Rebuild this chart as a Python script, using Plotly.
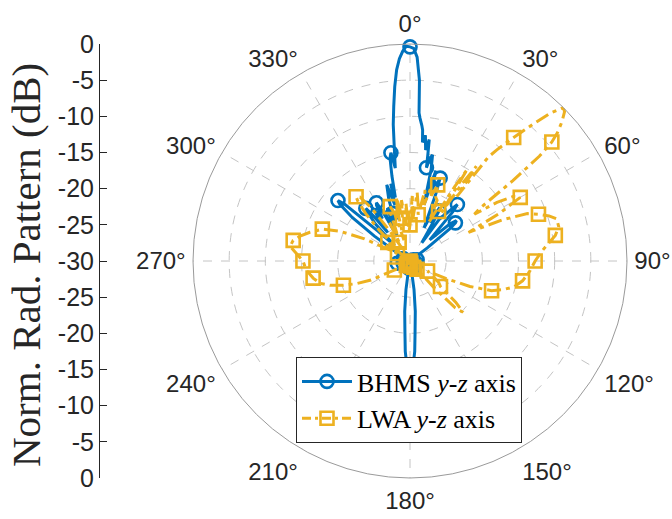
import plotly.graph_objects as go

# ---------------- data (angle in degrees, normalised pattern in dB) ----------------
bhms_theta = [-180, -179, -178, -177, -176, -174, -172, -170, -160, -150, -140, -130, -120, -110,
              -100, -90, -80, -70, -62, -58, -55, -53, -51, -50, -49, -47, -45, -43, -41,
              -40, -39, -38, -37, -35, -33, -31, -30, -29, -27, -25, -23, -21, -20, -19,
              -17, -15, -14, -13, -12, -11, -10, -9, -8, -7, -6, -5, -4, -3, -2, -1, 0,
              1, 2, 3, 3.5, 4, 5, 5.5, 6, 7, 8, 9, 9.5, 10, 11, 12, 13, 14, 16, 17, 18,
              19, 20, 21, 23, 25, 27, 29, 30, 31, 33, 35, 37, 39, 40, 41, 43, 45, 47, 49,
              50, 51, 53, 55, 58, 62, 70, 80, 90, 100, 110, 120, 130, 140, 150, 160, 170,
              172, 174, 176, 177, 178, 179, 180]
bhms_db = [-14, -14.5, -16, -17.5, -20, -23, -26, -29, -30, -29.5, -30, -29.5, -30, -29,
           -28.2, -29.5, -30, -29, -30, -28, -24, -20, -17.5, -17.0, -18, -24, -27, -23, -21,
           -20.5, -22, -25, -23, -21.5, -23, -21, -20.7, -22, -26, -24, -22, -24, -23, -21,
           -19, -22, -19, -21, -18, -15.5, -14.8, -17, -14.5, -11, -8.5, -5.8, -3.5, -2, -1, -0.3, -0.4,
           -0.6, -1.8, -5, -9.5, -10.2, -11.2, -11.8, -13.5, -12.5, -14.5, -13, -15, -16.9, -15.5, -15, -17, -22, -17, -20, -18.5,
           -19, -17.8, -20, -25, -22, -24, -21.5, -22, -24, -27, -23, -22, -20.5, -19.8, -21, -26, -25, -22.5, -21.5,
           -21.8, -23, -27, -30, -29, -30, -29.5, -29, -30, -29.5, -29, -30, -29.5, -30, -29, -30, -29.5,
           -26, -23, -20, -17.5, -16, -14.5, -14]

lwa_theta = [-180, -170, -160, -150, -140, -130, -125, -120, -116, -113, -110, -107, -104,
             -100, -95, -90, -86, -83, -80, -77, -74, -70, -67, -64, -61, -60, -57, -54,
             -50, -47, -45, -43, -41, -40, -38, -36, -34, -32, -30, -28, -26, -24, -22,
             -20, -18, -16, -14, -12, -10, -8, -6, -4, -2, 0, 2, 4, 6, 8, 10, 12, 14, 16,
             18, 20, 22, 24, 26, 28, 30, 31, 32, 33, 34, 35, 36, 37, 38, 40, 42, 43.5, 45,
             46, 47.5, 49, 50, 51, 52, 53, 54, 56, 58, 60, 62, 64, 66, 68, 70, 72, 74, 77,
             80, 83, 86, 90, 95, 100, 104, 107, 110, 113, 116, 120, 124, 127, 130, 132, 134,
             136, 138, 140, 145, 150, 160, 170, 180]
lwa_db = [-29.5, -30, -29.5, -29.8, -29.2, -29.5, -28.5, -27.5, -24, -22, -20.2, -18.5, -17.2,
          -16.4, -15.6, -15.2, -14.2, -13.3, -13.6, -14.5, -15.6, -17.1, -19.5, -23, -27, -28, -26, -29,
          -26, -28, -24, -21, -19, -18.4, -18.8, -21, -25, -28, -27, -24, -26, -25, -22.5,
          -22, -23, -27, -23, -21, -24, -21.5, -25, -22, -26, -25, -21, -24, -20.5, -22, -23.5, -20, -22, -19.5,
          -20.5, -18.8, -20.5, -20.8, -24, -21, -22.1, -18, -15, -22, -17, -14, -19, -12, -10.5, -7.7, -4.5, -1.8, 0,
          -0.3, -1.5, -3, -4.4, -7, -12, -18, -19, -15.5, -13.2, -12.4, -16, -21, -16, -12.5, -11.1, -9.8, -8.9, -8.9,
          -9.6, -10.8, -11.8, -12.7, -13.4, -14.2, -15.2, -16.5, -18, -21, -24.5, -27.2, -26, -25, -24.5, -21.5, -19.8,
          -21, -25, -28.5, -29.5, -29, -29.7, -29.3, -29.5]

series_names = ["BHMS <i>y</i>-<i>z</i> axis", "LWA <i>y</i>-<i>z</i> axis"]
angle_ticks = list(range(0, 360, 30))
angle_tick_text = [f"{a}°" for a in angle_ticks]
left_tick_vals = list(range(0, 65, 5))
left_tick_text = ["0", "-5", "-10", "-15", "-20", "-25", "-30", "-25", "-20", "-15", "-10", "-5", "0"]

# ---------------- styling ----------------
BLUE = "#0072BD"
YELLOW = "#EDB120"
TXT = "#262626"
GRID = "#c4c4c4"
SANS = "Liberation Sans"
SERIF = "Liberation Serif"

def marker_subset(th, r):
    t2, r2 = [], []
    for t, v in zip(th, r):
        if float(t) % 10 == 0:
            t2.append(t)
            r2.append(v)
    return t2, r2

fig = go.Figure()

blue_line = dict(color=BLUE, width=3)
blue_marker = dict(symbol="circle-open", size=13, color=BLUE, line=dict(color=BLUE, width=2.6))
yel_line = dict(color=YELLOW, width=3, dash="14px,5px,4px,5px")
yel_marker = dict(symbol="square-open", size=13, color=YELLOW, line=dict(color=YELLOW, width=2.6))

# BHMS
fig.add_trace(go.Scatterpolar(r=bhms_db, theta=bhms_theta, mode="lines", line=blue_line,
                              showlegend=False, hoverinfo="skip"))
mt, mr = marker_subset(bhms_theta, bhms_db)
fig.add_trace(go.Scatterpolar(r=mr, theta=mt, mode="markers", marker=blue_marker,
                              showlegend=False, hoverinfo="skip"))
# LWA
fig.add_trace(go.Scatterpolar(r=lwa_db, theta=lwa_theta, mode="lines", line=yel_line,
                              showlegend=False, hoverinfo="skip"))
mt, mr = marker_subset(lwa_theta, lwa_db)
fig.add_trace(go.Scatterpolar(r=mr, theta=mt, mode="markers", marker=yel_marker,
                              showlegend=False, hoverinfo="skip"))

# legend entries
fig.add_trace(go.Scatterpolar(r=[None], theta=[None], mode="lines+markers", name=series_names[0],
                              line=blue_line, marker=blue_marker))
fig.add_trace(go.Scatterpolar(r=[None], theta=[None], mode="lines+markers", name=series_names[1],
                              line=dict(color=YELLOW, width=3, dash="9px,4px,3px,4px"), marker=yel_marker))

# left linear dB scale (cartesian axis)
fig.add_trace(go.Scatter(x=[0], y=[None], mode="markers", showlegend=False, hoverinfo="skip",
                         xaxis="x", yaxis="y"))

W, H = 672, 519
cx, cy, R = 410, 261, 217
ytop, ybot = cy - R, cy + R

fig.update_layout(
    width=W, height=H,
    margin=dict(l=0, r=0, t=0, b=0, autoexpand=False),
    paper_bgcolor="white",
    plot_bgcolor="rgba(0,0,0,0)",
    polar=dict(
        domain=dict(x=[(cx - R) / W, (cx + R) / W], y=[1 - ybot / H, 1 - ytop / H]),
        bgcolor="white",
        radialaxis=dict(range=[-30, 0], tickvals=[-25, -20, -15, -10, -5], showticklabels=False,
                        ticks="", showline=False, gridcolor=GRID, griddash="dash", gridwidth=1),
        angularaxis=dict(rotation=90, direction="clockwise", tickmode="array", tickvals=angle_ticks,
                         ticktext=angle_tick_text,
                         showline=True, linecolor="#9a9a9a", linewidth=1,
                         gridcolor=GRID, griddash="dash", gridwidth=1,
                         ticks="outside", ticklen=2, tickcolor="rgba(0,0,0,0)",
                         tickfont=dict(family=SANS, size=24, color=TXT)),
    ),
    xaxis=dict(domain=[100 / W, 101 / W], visible=False, range=[0, 1], automargin=False),
    yaxis=dict(domain=[1 - ybot / H, 1 - ytop / H], range=[0, 60], tickmode="array",
               tickvals=left_tick_vals, ticktext=left_tick_text, showline=True, linecolor=TXT,
               linewidth=1, ticks="inside", ticklen=7, tickcolor=TXT, showgrid=False, zeroline=False,
               tickfont=dict(family=SANS, size=25, color=TXT), anchor="x", automargin=False),
    legend=dict(x=296 / W, y=1 - 357 / H, xanchor="left", yanchor="top", bgcolor="white",
                bordercolor=TXT, borderwidth=1, font=dict(family=SERIF, size=26, color="#000000"),
                itemwidth=50, tracegroupgap=0),
    annotations=[dict(text="Norm. Rad. Pattern (dB)", textangle=-90, x=26 / W, y=1 - 265 / H,
                      xref="paper", yref="paper", xanchor="center", yanchor="middle", showarrow=False,
                      font=dict(family=SERIF, size=41, color=TXT))],
)

fig.write_html("out.html")
